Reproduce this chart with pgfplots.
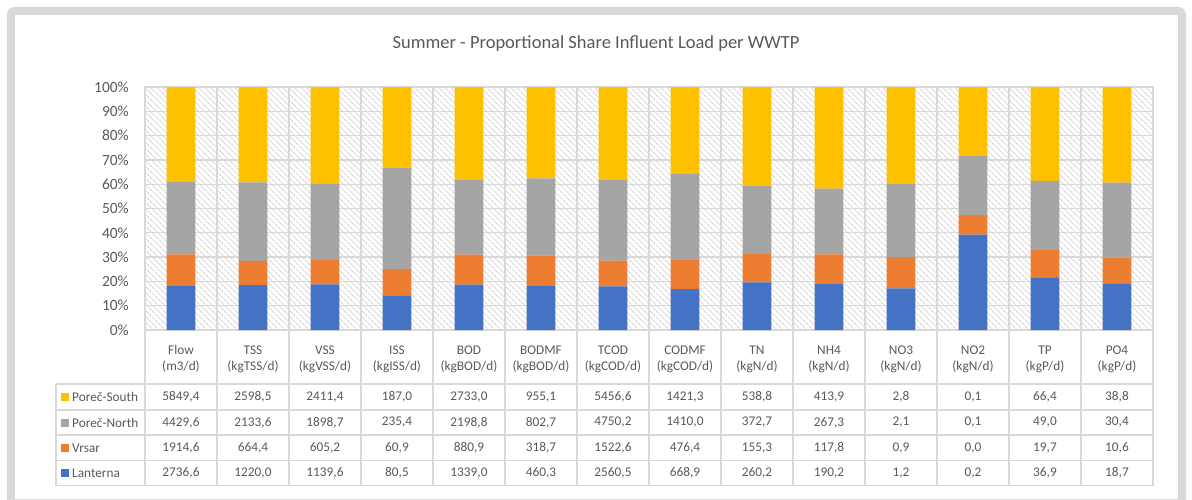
\documentclass[border=0pt]{standalone}
\usepackage{fontspec}
\setmainfont{Carlito}
\usepackage{pgfplots}
\usepackage{pgfplotstable}
\pgfplotsset{compat=1.18}
\usetikzlibrary{patterns.meta}

\definecolor{cS}{HTML}{FFC000}
\definecolor{cN}{HTML}{A5A5A5}
\definecolor{cV}{HTML}{ED7D31}
\definecolor{cL}{HTML}{4472C4}
\definecolor{gridc}{HTML}{D9D9D9}
\definecolor{hatchc}{HTML}{D4D4D4}
\definecolor{txt}{HTML}{595959}

% influent loads per WWTP (NO2 row: shares, table shows rounded values)
\pgfplotstableread{
x  L       V       N       S
0  2736.6  1914.6  4429.6  5849.4
1  1220.0  664.4   2133.6  2598.5
2  1139.6  605.2   1898.7  2411.4
3  80.5    60.9    235.4   187.0
4  1339.0  880.9   2198.8  2733.0
5  460.3   318.7   802.7   955.1
6  2560.5  1522.6  4750.2  5456.6
7  668.9   476.4   1410.0  1421.3
8  260.2   155.3   372.7   538.8
9  190.2   117.8   267.3   413.9
10 1.2     0.9     2.1     2.8
11 0.157   0.032   0.098   0.113
12 36.9    19.7    49.0    66.4
13 18.7    10.6    30.4    38.8
}\loads

\newcommand{\share}[1]{100*\thisrow{#1}/(\thisrow{L}+\thisrow{V}+\thisrow{N}+\thisrow{S})}

% one row of the data table: y centre, list of cells
\newcommand{\tablerow}[2]{%
  \foreach \v [count=\i from 0] in {#2}
    \node[text=txt, font=\fontsize{13.3}{15}\selectfont] at ({181pt+72pt*\i},{-#1 pt}) {\v};%
}

\begin{document}
\begin{tikzpicture}
  \useasboundingbox (0pt,0pt) rectangle (1192pt,-499pt);
  \draw[gridc, line width=8pt, rounded corners=4pt] (10.8pt,-10.8pt) rectangle (1182pt,-503pt);

  \node[text=txt, font=\fontsize{18.5}{22}\selectfont] at (596pt,-44pt)
    {Summer - Proportional Share Influent Load per WWTP};

  \begin{axis}[
      at={(145pt,-330pt)}, anchor=south west,
      scale only axis, width=1008pt, height=243pt,
      xmin=-0.5, xmax=13.5, ymin=0, ymax=100,
      ybar stacked, bar width=28.7pt,
      axis background/.style={pattern={Lines[angle=-45, distance=4pt, line width=0.9pt]}, pattern color=hatchc},
      axis line style={gridc, line width=1.3pt},
      xtick={0.5,1.5,...,12.5}, xticklabels={},
      ytick={0,10,...,100},
      yticklabel={\pgfmathprintnumber{\tick}\%},
      yticklabel style={text=txt, font=\fontsize{15.5}{17}\selectfont, inner sep=0pt, anchor=east, xshift=-16pt},
      /pgf/number format/assume math mode=true,
      major tick length=0pt,
      xmajorgrids, ymajorgrids,
      grid style={gridc, line width=1.3pt},
      every axis plot/.append style={draw=none},
    ]
    \addplot[fill=cL] table[x=x, y expr={\share{L}}] {\loads};
    \addplot[fill=cV] table[x=x, y expr={\share{V}}] {\loads};
    \addplot[fill=cN] table[x=x, y expr={\share{N}}] {\loads};
    \addplot[fill=cS] table[x=x, y expr={\share{S}}] {\loads};
  \end{axis}

  % data table grid
  \begin{scope}[gridc, line width=1.3pt]
    \foreach \k in {0,...,14}
      \draw ({145pt+72pt*\k},-330pt) -- ({145pt+72pt*\k},-485.7pt);
    \foreach \yy in {384,410,435,460.7,485.7}
      \draw (56pt,-\yy pt) -- (1153pt,-\yy pt);
    \draw (56pt,-384pt) -- (56pt,-485.7pt);
  \end{scope}

  % category headers
  \foreach \a/\b [count=\i from 0] in {Flow/{(m3/d)},TSS/{(kgTSS/d)},VSS/{(kgVSS/d)},ISS/{(kgISS/d)},
      BOD/{(kgBOD/d)},BODMF/{(kgBOD/d)},TCOD/{(kgCOD/d)},CODMF/{(kgCOD/d)},TN/{(kgN/d)},
      NH4/{(kgN/d)},NO3/{(kgN/d)},NO2/{(kgN/d)},TP/{(kgP/d)},PO4/{(kgP/d)}} {
    \node[text=txt, font=\fontsize{13.3}{15}\selectfont] at ({181pt+72pt*\i},-350pt) {\a};
    \node[text=txt, font=\fontsize{13.3}{15}\selectfont] at ({181pt+72pt*\i},-367pt) {\b};
  }

  % series labels with keys
  \foreach \c/\t/\yy in {cS/Poreč-South/397, cN/Poreč-North/422.5, cV/Vrsar/448, cL/Lanterna/473} {
    \fill[\c] (61pt,{-\yy pt-4pt}) rectangle (69pt,{-\yy pt+4pt});
    \node[text=txt, anchor=west, inner sep=0pt, font=\fontsize{13.3}{15}\selectfont] at (72pt,-\yy pt) {\t};
  }

  \tablerow{397}{{5849,4},{2598,5},{2411,4},{187,0},{2733,0},{955,1},{5456,6},{1421,3},{538,8},{413,9},{2,8},{0,1},{66,4},{38,8}}
  \tablerow{422.5}{{4429,6},{2133,6},{1898,7},{235,4},{2198,8},{802,7},{4750,2},{1410,0},{372,7},{267,3},{2,1},{0,1},{49,0},{30,4}}
  \tablerow{448}{{1914,6},{664,4},{605,2},{60,9},{880,9},{318,7},{1522,6},{476,4},{155,3},{117,8},{0,9},{0,0},{19,7},{10,6}}
  \tablerow{473}{{2736,6},{1220,0},{1139,6},{80,5},{1339,0},{460,3},{2560,5},{668,9},{260,2},{190,2},{1,2},{0,2},{36,9},{18,7}}
\end{tikzpicture}
\end{document}
